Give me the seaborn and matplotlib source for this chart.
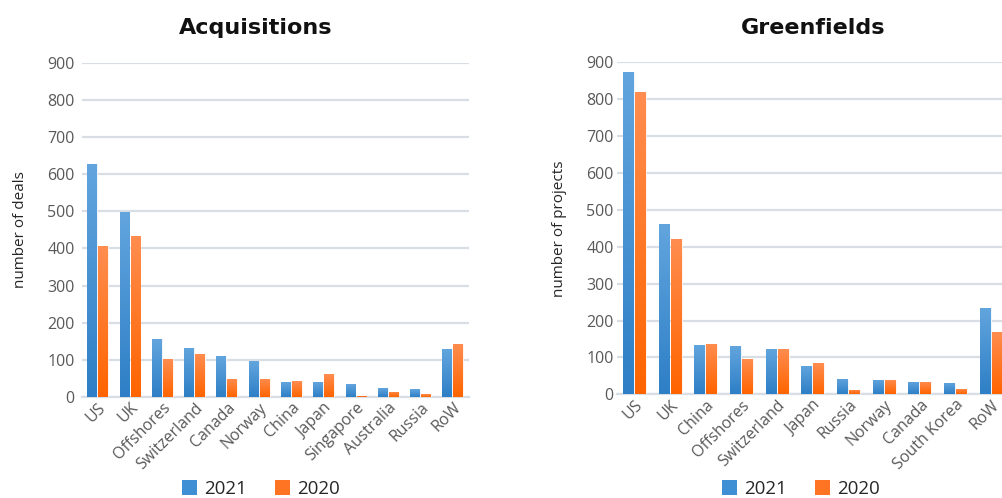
import numpy as np
import pandas as pd
import matplotlib
matplotlib.use("Agg")
import matplotlib.pyplot as plt
from matplotlib.colors import LinearSegmentedColormap
from matplotlib.patches import Patch
import seaborn as sns

# Cross-border deals by counterpart country
acq_countries = ["US", "UK", "Offshores", "Switzerland", "Canada", "Norway",
                 "China", "Japan", "Singapore", "Australia", "Russia", "RoW"]
acq_2021 = [628, 498, 155, 132, 110, 96, 40, 40, 34, 24, 21, 128]
acq_2020 = [406, 433, 102, 116, 49, 49, 43, 61, 4, 14, 8, 142]

gf_countries = ["US", "UK", "China", "Offshores", "Switzerland", "Japan",
                "Russia", "Norway", "Canada", "South Korea", "RoW"]
gf_2021 = [875, 462, 133, 130, 123, 77, 41, 38, 34, 31, 235]
gf_2020 = [820, 422, 136, 97, 123, 84, 11, 38, 34, 14, 169]

years = ["2021", "2020"]
year_colors = {"2021": "#3f8fd4", "2020": "#ff7422"}
grad_top = {"2021": "#62a5de", "2020": "#ff8d4f"}
grad_bot = {"2021": "#2e7fc6", "2020": "#ff6400"}

sns.set_theme(style="white")
plt.rcParams["font.family"] = ["Open Sans", "DejaVu Sans"]

fig = plt.figure(figsize=(10.03, 4.98), dpi=100)
ax_acq = fig.add_axes([0.0813, 0.2028, 0.3863, 0.6713])
ax_gf = fig.add_axes([0.6147, 0.2082, 0.3913, 0.6667])


def long_frame(countries, v21, v20):
    return pd.DataFrame({
        "country": countries * 2,
        "year": ["2021"] * len(countries) + ["2020"] * len(countries),
        "value": list(v21) + list(v20),
    })


def shade_bars(ax, n):
    # vertical colour gradient inside every bar; seaborn adds the bars
    # hue level by hue level, so the first n belong to 2021
    grad = np.linspace(0, 1, 64).reshape(-1, 1)
    for i, patch in enumerate(list(ax.patches)):
        h = patch.get_height()
        if h <= 0:
            continue
        yr = years[0] if i < n else years[1]
        cmap = LinearSegmentedColormap.from_list("g", [grad_bot[yr], grad_top[yr]])
        x0 = patch.get_x()
        w = patch.get_width()
        im = ax.imshow(grad, cmap=cmap, origin="lower", aspect="auto",
                       extent=[x0, x0 + w, 0, h], zorder=patch.get_zorder() + 0.1,
                       interpolation="bilinear")
        im.set_clip_path(patch)


def draw(ax, countries, v21, v20, ylabel, title, title_x, legend_x, ypad):
    df = long_frame(countries, v21, v20)
    sns.barplot(data=df, x="country", y="value", hue="year", hue_order=years,
                palette=year_colors, saturation=1, width=0.68, gap=0.1, ax=ax,
                edgecolor="white", linewidth=0.6, legend=False, zorder=3)
    shade_bars(ax, len(countries))
    ax.set_xlim(-0.5, len(countries) - 0.5)
    ax.set_ylim(0, 900)
    ax.set_yticks(range(0, 901, 100))
    ax.grid(axis="y", color="#d9dee4", linewidth=1.6, zorder=0)
    ax.set_axisbelow(True)
    for s in ["top", "right", "left"]:
        ax.spines[s].set_visible(False)
    ax.spines["bottom"].set_color("#d9dee4")
    ax.spines["bottom"].set_linewidth(1.6)
    ax.tick_params(axis="y", length=0, pad=ypad, labelsize=11.5, labelcolor="#595959")
    ax.tick_params(axis="x", length=0, pad=2, labelsize=11.5, labelcolor="#595959")
    ax.set_xticks(range(len(countries)))
    ax.set_xticklabels(countries, rotation=45, ha="right", rotation_mode="anchor")
    ax.set_xlabel("")
    ax.set_ylabel(ylabel, fontsize=11, color="#262626", labelpad=14)
    fig.text(title_x, 1 - 34 / 498, title, ha="center", va="baseline",
             fontsize=16, fontweight="bold", color="#111111",
             family=["DejaVu Sans"])
    handles = [Patch(facecolor=year_colors[y], edgecolor="none") for y in years]
    fig.legend(handles, years, loc="center", bbox_to_anchor=(legend_x, 1 - 489 / 498),
               ncol=2, frameon=False, fontsize=13.5, handlelength=0.8, handleheight=0.8,
               handletextpad=0.4, columnspacing=1.5, labelcolor="#262626")


draw(ax_acq, acq_countries, acq_2021, acq_2020, "number of deals",
     "Acquisitions", 255.5 / 1003, 261 / 1003, 5)
draw(ax_gf, gf_countries, gf_2021, gf_2020, "number of projects",
     "Greenfields", 813 / 1003, 801 / 1003, 2)

fig.savefig("out.png", dpi=100)
